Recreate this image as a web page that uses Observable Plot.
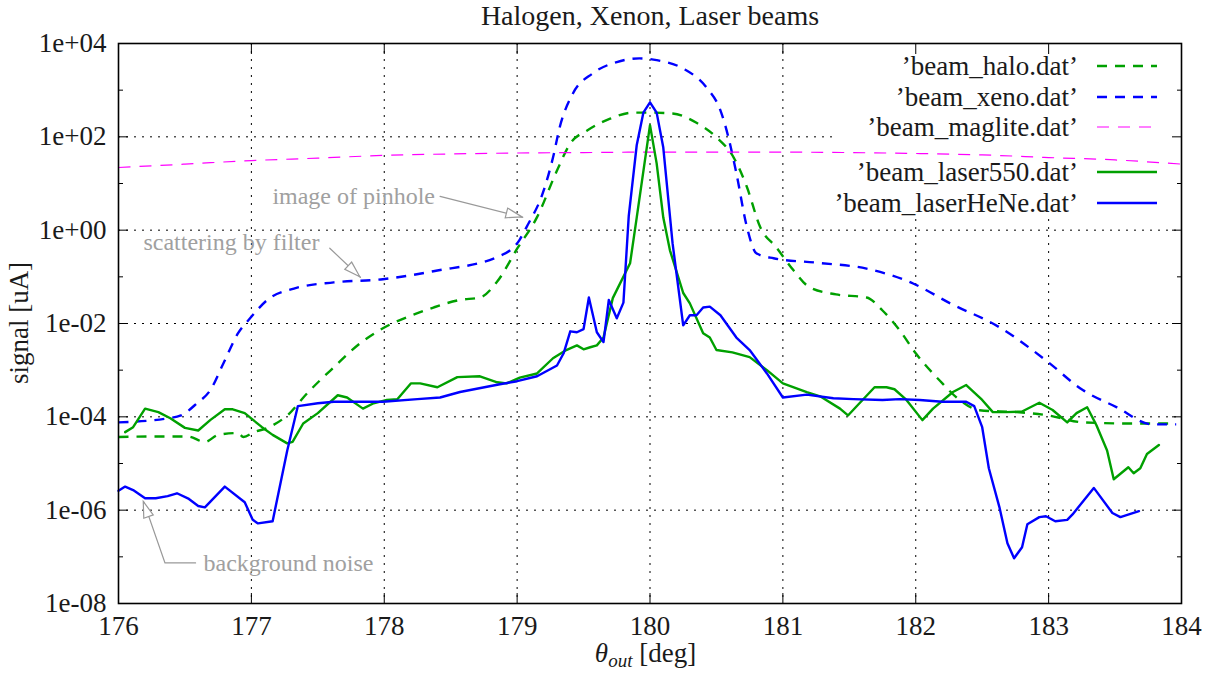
<!DOCTYPE html>
<html>
<head>
<meta charset="utf-8">
<script src="https://cdn.jsdelivr.net/npm/d3@7"></script>
<script src="https://cdn.jsdelivr.net/npm/@observablehq/plot@0.6"></script>
<style>
  body { margin: 0; background: #fff; }
  #title {
    width: 1220px; height: 26px; line-height: 26px; box-sizing: border-box;
    padding-left: 80px; text-align: center; white-space: nowrap;
    font: 28px "Liberation Serif", serif; color: #1a1a1a;
  }
  #chart svg { display: block; }
</style>
</head>
<body>
<div id="title">Halogen, Xenon, Laser beams</div>
<div id="chart"></div>
<script>
// ---- measured beam profiles: angle θ_out [deg] and signal [uA] ----
const haloAngle = [176.0, 176.25, 176.52, 176.65, 176.75, 176.9, 176.94, 177.02, 177.12, 177.27, 177.42, 177.62, 177.82, 177.99, 178.25, 178.37, 178.57, 178.72, 178.85, 179.0, 179.15, 179.3, 179.4, 179.53, 179.7, 179.87, 180.0, 180.17, 180.35, 180.5, 180.63, 180.73, 180.83, 180.95, 181.08, 181.2, 181.4, 181.63, 181.75, 181.88, 182.0, 182.18, 182.33, 182.48, 182.76, 183.0, 183.26, 183.63, 183.93];
const haloSignal = [3.7e-5, 3.8e-5, 3.8e-5, 2.9e-5, 4.1e-5, 4.5e-5, 3.7e-5, 4.7e-5, 5.8e-5, 1.07e-4, 3.2e-4, 1.15e-3, 3.8e-3, 7.9e-3, 1.66e-2, 2.2e-2, 3.2e-2, 3.6e-2, 7.9e-2, 0.4, 1.9, 19, 72, 138, 245, 330, 330, 316, 200, 98, 36, 8.3, 1.15, 0.43, 0.138, 0.06, 0.042, 0.036, 0.019, 7.1e-3, 2.3e-3, 6.0e-4, 2.3e-4, 1.38e-4, 1.26e-4, 1.07e-4, 7.6e-5, 7.2e-5, 7.2e-5];

const xenoAngle = [176.0, 176.37, 176.47, 176.59, 176.69, 176.79, 176.9, 176.99, 177.12, 177.32, 177.62, 177.99, 178.37, 178.87, 179.02, 179.07, 179.2, 179.27, 179.32, 179.42, 179.57, 179.75, 179.92, 180.05, 180.25, 180.43, 180.53, 180.59, 180.65, 180.73, 180.8, 180.93, 181.26, 181.63, 181.98, 182.26, 182.63, 182.98, 183.26, 183.51, 183.78, 183.96];
const xenoSignal = [7.6e-5, 9.3e-5, 1.07e-4, 1.95e-4, 3.7e-4, 1.41e-3, 6.2e-3, 1.29e-2, 3.2e-2, 5.6e-2, 7.6e-2, 8.9e-2, 0.132, 0.28, 0.63, 1.15, 7.1, 36, 158, 850, 2300, 4000, 4800, 4400, 2900, 1100, 370, 98, 16.6, 1.15, 0.32, 0.25, 0.2, 0.15, 0.072, 0.027, 8.3e-3, 1.62e-3, 3.7e-4, 1.62e-4, 6.9e-5, 6.9e-5];

const magliteAngle = [176.0, 176.5, 177.0, 177.5, 178.0, 178.5, 179.0, 179.5, 180.0, 180.5, 181.0, 181.5, 182.0, 182.5, 183.0, 183.5, 184.0];
const magliteSignal = [22, 26, 31, 35, 40, 43, 45, 46, 47, 47, 47, 46, 44, 41, 36, 32, 26];

const laser550Angle = [176.05, 176.11, 176.2, 176.3, 176.39, 176.5, 176.6, 176.69, 176.8, 176.86, 176.95, 177.08, 177.16, 177.27, 177.31, 177.39, 177.5, 177.65, 177.72, 177.84, 177.92, 178.02, 178.1, 178.2, 178.27, 178.4, 178.55, 178.72, 178.85, 178.92, 179.02, 179.15, 179.27, 179.37, 179.45, 179.5, 179.55, 179.6, 179.65, 179.72, 179.85, 179.9, 180.0, 180.05, 180.1, 180.15, 180.25, 180.3, 180.4, 180.45, 180.5, 180.62, 180.75, 180.88, 181.0, 181.18, 181.28, 181.43, 181.49, 181.58, 181.69, 181.78, 181.84, 181.93, 182.05, 182.13, 182.28, 182.38, 182.5, 182.58, 182.68, 182.8, 182.93, 183.03, 183.14, 183.21, 183.29, 183.36, 183.44, 183.49, 183.6, 183.64, 183.69, 183.74, 183.83];
const laser550Signal = [4.7e-5, 6.0e-5, 1.5e-4, 1.26e-4, 9.3e-5, 5.8e-5, 5.1e-5, 8.5e-5, 1.45e-4, 1.45e-4, 1.2e-4, 6.0e-5, 4.1e-5, 2.7e-5, 2.9e-5, 7.2e-5, 1.2e-4, 2.9e-4, 2.6e-4, 1.5e-4, 1.95e-4, 2.3e-4, 2.4e-4, 5.2e-4, 5.2e-4, 4.3e-4, 7.1e-4, 7.4e-4, 5.5e-4, 5.2e-4, 6.9e-4, 8.5e-4, 1.8e-3, 2.7e-3, 3.4e-3, 2.8e-3, 3.1e-3, 3.4e-3, 5.0e-3, 3.5e-2, 0.195, 1.86, 178, 27, 1.86, 0.37, 0.045, 0.027, 6.2e-3, 5.0e-3, 2.7e-3, 2.4e-3, 1.9e-3, 1.0e-3, 5.2e-4, 3.4e-4, 2.75e-4, 1.5e-4, 1.07e-4, 2.0e-4, 4.3e-4, 4.3e-4, 3.9e-4, 2.3e-4, 8.5e-5, 1.5e-4, 3.4e-4, 4.8e-4, 2.3e-4, 1.26e-4, 1.26e-4, 1.3e-4, 2.0e-4, 1.4e-4, 7.6e-5, 1.2e-4, 1.6e-4, 6.6e-5, 1.9e-5, 4.6e-6, 8.3e-6, 6.2e-6, 7.9e-6, 1.6e-5, 2.5e-5];

const laserHeNeAngle = [176.0, 176.05, 176.11, 176.2, 176.28, 176.37, 176.44, 176.53, 176.6, 176.65, 176.8, 176.95, 177.01, 177.05, 177.16, 177.27, 177.35, 177.5, 177.62, 177.99, 178.25, 178.42, 178.57, 178.87, 179.0, 179.15, 179.3, 179.35, 179.4, 179.45, 179.5, 179.54, 179.6, 179.65, 179.69, 179.75, 179.8, 179.84, 179.9, 179.95, 180.0, 180.05, 180.1, 180.17, 180.25, 180.3, 180.35, 180.4, 180.45, 180.53, 180.65, 180.75, 180.88, 181.0, 181.18, 181.38, 181.53, 181.75, 181.88, 182.03, 182.2, 182.38, 182.44, 182.5, 182.55, 182.63, 182.69, 182.74, 182.8, 182.84, 182.93, 182.98, 183.05, 183.14, 183.18, 183.34, 183.48, 183.54, 183.68];
const laserHeNeSignal = [2.6e-6, 3.2e-6, 2.7e-6, 1.8e-6, 1.8e-6, 2.0e-6, 2.3e-6, 1.74e-6, 1.23e-6, 1.15e-6, 3.2e-6, 1.48e-6, 6.2e-7, 5.2e-7, 5.8e-7, 1.9e-5, 1.7e-4, 1.95e-4, 2.1e-4, 2.1e-4, 2.4e-4, 2.6e-4, 3.4e-4, 5.0e-4, 5.8e-4, 7.4e-4, 1.26e-3, 2.3e-3, 6.8e-3, 6.5e-3, 7.6e-3, 3.6e-2, 6.5e-3, 4.0e-3, 3.2e-2, 1.29e-2, 2.8e-2, 2.0, 66, 330, 550, 330, 59, 0.52, 9.1e-3, 1.5e-2, 1.5e-2, 2.2e-2, 2.3e-2, 1.5e-2, 5.0e-3, 2.7e-3, 8.5e-4, 2.6e-4, 3.0e-4, 2.5e-4, 2.4e-4, 2.3e-4, 2.4e-4, 2.3e-4, 2.1e-4, 2.1e-4, 1.7e-4, 6.0e-5, 7.9e-6, 1.15e-6, 1.95e-7, 9.3e-8, 1.6e-7, 5.0e-7, 7.1e-7, 7.4e-7, 5.8e-7, 6.2e-7, 8.1e-7, 3.0e-6, 8.7e-7, 7.1e-7, 9.5e-7];

// ---- axes ----
const xTicks = [176, 177, 178, 179, 180, 181, 182, 183, 184];
const yMajorTicks = [1e-8, 1e-6, 1e-4, 1e-2, 1, 1e2, 1e4];
const yMinorTicks = [1e-7, 1e-5, 1e-3, 1e-1, 1e1, 1e3];

// ---- annotations ----
const noteTexts = ["image of pinhole", "scattering by filter", "background noise"];
const noteAngle = [177.77, 176.85, 176.64];
const noteSignal = [5.3, 0.55, 7.4e-8];
const noteAnchor = ["middle", "middle", "start"];
const pinholeArrowAngle = [178.42, 179.04];
const pinholeArrowSignal = [5.3, 1.88];
const filterArrowAngle = [177.59, 177.82];
const filterArrowSignal = [0.41, 0.098];
const noiseArrowAngle = [176.58, 176.35, 176.19];
const noiseArrowSignal = [7.4e-8, 7.4e-8, 1.5e-6];

// ---- legend / styles ----
const seriesNames = ["’beam_halo.dat’", "’beam_xeno.dat’", "’beam_maglite.dat’", "’beam_laser550.dat’", "’beam_laserHeNe.dat’"];
const seriesColors = ["#00a000", "#0000ff", "#ff00ff", "#00a000", "#0000ff"];
const seriesWidths = [2.4, 2.4, 1.2, 2.4, 2.4];
const seriesDashes = ["10,8", "10,8", "12,9", null, null];
const seriesCurves = ["monotone-x", "monotone-x", "monotone-x", "linear", "linear"];

const seriesAngles = [haloAngle, xenoAngle, magliteAngle, laser550Angle, laserHeNeAngle];
const seriesSignals = [haloSignal, xenoSignal, magliteSignal, laser550Signal, laserHeNeSignal];

const pairs = (xs, ys) => xs.map((x, i) => ({angle: x, signal: ys[i]}));

const fmtExp = d => {
  const e = Math.round(Math.log10(d));
  return "1e" + (e < 0 ? "-" : "+") + String(Math.abs(e)).padStart(2, "0");
};

const gridStyle = {stroke: "#000", strokeOpacity: 1, strokeWidth: 1, strokeDasharray: "2,6"};
const noteColor = "#a0a0a0";

const dataMarks = seriesNames.map((name, k) => Plot.line(pairs(seriesAngles[k], seriesSignals[k]), {
  x: "angle", y: "signal",
  stroke: seriesColors[k], strokeWidth: seriesWidths[k],
  strokeDasharray: seriesDashes[k], strokeLinecap: seriesDashes[k] ? "butt" : "round",
  curve: seriesCurves[k]
}));

const arrowPaths = [
  pairs(pinholeArrowAngle, pinholeArrowSignal),
  pairs(filterArrowAngle, filterArrowSignal),
  pairs(noiseArrowAngle, noiseArrowSignal)
];

// one text mark per anchor, since textAnchor is a constant option
const notes = noteTexts.map((t, i) => ({text: t, angle: noteAngle[i], signal: noteSignal[i], anchor: noteAnchor[i]}));
const noteMarks = ["start", "middle"].map(anchor => Plot.text(notes.filter(n => n.anchor === anchor), {
  x: "angle", y: "signal", text: "text", textAnchor: anchor, fill: noteColor, fontSize: 24
}));

const chart = Plot.plot({
  width: 1220,
  height: 647,
  marginLeft: 118,
  marginRight: 39,
  marginTop: 17,
  marginBottom: 70,
  style: {fontFamily: "'Liberation Serif', serif", fontSize: "27px", color: "#1a1a1a", background: "transparent", overflow: "visible"},
  x: {domain: [176, 184]},
  y: {type: "log", domain: [1e-8, 1e4]},
  marks: [
    Plot.gridX(xTicks.slice(1, -1), gridStyle),
    Plot.gridY(yMajorTicks.slice(1, -1), gridStyle),
    ...dataMarks,
    ...arrowPaths.map(p => Plot.line(p, {x: "angle", y: "signal", stroke: "#999", strokeWidth: 1.2})),
    ...noteMarks,
    Plot.frame({stroke: "#000", strokeWidth: 1.6}),
    Plot.axisX(xTicks, {anchor: "bottom", tickSize: -10, tickPadding: 22, tickFormat: d => String(d), label: null, stroke: "#000"}),
    Plot.axisX(xTicks, {anchor: "top", tickSize: -10, tickFormat: () => "", label: null, stroke: "#000"}),
    Plot.axisY(yMajorTicks, {anchor: "left", tickSize: -10, tickPadding: 22, tickFormat: fmtExp, label: null, stroke: "#000"}),
    Plot.axisY(yMinorTicks, {anchor: "left", tickSize: -5, tickFormat: () => "", label: null, stroke: "#000"}),
    Plot.axisY(yMajorTicks, {anchor: "right", tickSize: -10, tickFormat: () => "", label: null, stroke: "#000"}),
    Plot.axisY(yMinorTicks, {anchor: "right", tickSize: -5, tickFormat: () => "", label: null, stroke: "#000"})
  ]
});

document.getElementById("chart").appendChild(chart);

// ---- extra SVG pieces placed through the chart's own scales ----
const ns = "http://www.w3.org/2000/svg";
const el = (tag, attrs, parent) => {
  const e = document.createElementNS(ns, tag);
  for (const [k, v] of Object.entries(attrs)) e.setAttribute(k, v);
  if (parent) parent.appendChild(e);
  return e;
};
const sx = chart.scale("x"), sy = chart.scale("y");
const frameLeft = Math.min(...sx.range), frameRight = Math.max(...sx.range);
const frameTop = Math.min(...sy.range), frameBottom = Math.max(...sy.range);

// key box hides the grid but not the curves
const keyBox = el("rect", {x: frameRight - 343, y: frameTop, width: 343, height: 175, fill: "#fff"});
const yGrid = chart.querySelector('[aria-label="y-grid"]');
if (yGrid) yGrid.after(keyBox); else chart.insertBefore(keyBox, chart.firstChild.nextSibling);

// open triangular arrow heads
const heads = el("g", {fill: "#fff", stroke: "#999", "stroke-width": 1.2}, chart);
for (const p of arrowPaths) {
  const a = p[p.length - 2], b = p[p.length - 1];
  const x0 = sx.apply(a.angle), y0 = sy.apply(a.signal);
  const x1 = sx.apply(b.angle), y1 = sy.apply(b.signal);
  const len = Math.hypot(x1 - x0, y1 - y0), ux = (x1 - x0) / len, uy = (y1 - y0) / len;
  const L = 16, W = 5;
  const bx = x1 - ux * L, by = y1 - uy * L;
  el("polygon", {points: `${x1},${y1} ${bx - uy * W},${by + ux * W} ${bx + uy * W},${by - ux * W}`}, heads);
}

// key
const key = el("g", {"font-family": "'Liberation Serif', serif", "font-size": 27, fill: "#1a1a1a"}, chart);
const rowY = [23, 54, 84, 129, 160];
seriesNames.forEach((name, k) => {
  const y = frameTop + rowY[k];
  const t = el("text", {x: frameRight - 103, y: y + 9, "text-anchor": "end"}, key);
  t.textContent = name;
  const ln = el("line", {x1: frameRight - 84, x2: frameRight - 24, y1: y, y2: y, stroke: seriesColors[k], "stroke-width": seriesWidths[k]}, key);
  if (seriesDashes[k]) ln.setAttribute("stroke-dasharray", seriesDashes[k]);
});

// axis titles
const xl = el("text", {x: (frameLeft + frameRight) / 2 - 4, y: frameBottom + 59, "text-anchor": "middle", "font-size": 27, fill: "#1a1a1a"}, chart);
const t1 = el("tspan", {"font-style": "italic"}, xl); t1.textContent = "θ";
const t2 = el("tspan", {"font-style": "italic", "font-size": 19, dy: 5}, xl); t2.textContent = "out";
const t3 = el("tspan", {dy: -5}, xl); t3.textContent = " [deg]";

const yl = el("text", {transform: `translate(28,${(frameTop + frameBottom) / 2}) rotate(-90)`, "text-anchor": "middle", "font-size": 27, fill: "#1a1a1a"}, chart);
yl.textContent = "signal [uA]";
</script>
</body>
</html>
